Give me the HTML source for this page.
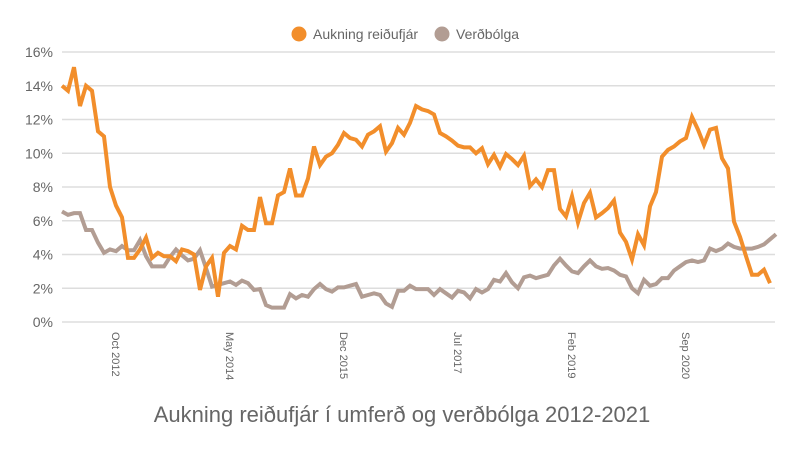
<!DOCTYPE html>
<html><head><meta charset="utf-8"><style>
body{margin:0;background:#fff;font-family:"Liberation Sans",sans-serif}
svg text{font-family:"Liberation Sans",sans-serif}
</style></head><body>
<svg id="chart" width="800" height="450" xmlns="http://www.w3.org/2000/svg">
<g id="grid"></g>
<g id="ylabels"></g>
<g id="xlabels"></g>
<g id="series"></g>
<g>
<g><circle cx="299" cy="34" r="7.5" fill="#f28e2b"/><text x="313" y="39" font-size="14" fill="#666">Aukning reiðufjár</text></g>
<g><circle cx="442" cy="34" r="7.5" fill="#b29d93"/><text x="456" y="39" font-size="14" fill="#666">Verðbólga</text></g>
</g>
<text x="402" y="422" text-anchor="middle" font-size="22" fill="#666">Aukning reiðufjár í umferð og verðbólga 2012-2021</text>
</svg>
<script>
const yTicks=[0,2,4,6,8,10,12,14,16];
const xTickLabels=["Oct 2012","May 2014","Dec 2015","Jul 2017","Feb 2019","Sep 2020"];
const xTickIndex=[9,28,47,66,85,104];
const cash=[14.0,13.7,15.1,12.8,14.0,13.7,11.3,11.0,8.0,6.9,6.2,3.8,3.8,4.3,5.0,3.8,4.1,3.9,3.9,3.6,4.3,4.2,4.0,1.9,3.3,3.8,1.5,4.1,4.5,4.3,5.7,5.45,5.45,7.4,5.85,5.85,7.5,7.7,9.1,7.5,7.5,8.5,10.4,9.3,9.8,10.0,10.5,11.2,10.9,10.8,10.4,11.1,11.3,11.6,10.1,10.6,11.5,11.1,11.8,12.8,12.6,12.5,12.3,11.2,11.0,10.75,10.45,10.35,10.35,10.0,10.3,9.35,9.9,9.2,9.95,9.65,9.3,9.85,8.05,8.45,8.0,9.0,9.0,6.7,6.25,7.45,5.9,7.05,7.65,6.2,6.45,6.75,7.2,5.3,4.75,3.7,5.2,4.55,6.85,7.7,9.8,10.2,10.4,10.7,10.9,12.15,11.4,10.5,11.4,11.5,9.7,9.1,5.95,5.05,3.9,2.8,2.8,3.1,2.3];
const inflation=[6.55,6.35,6.45,6.45,5.45,5.45,4.7,4.1,4.3,4.2,4.5,4.25,4.25,4.85,3.9,3.3,3.3,3.3,3.85,4.3,3.95,3.65,3.75,4.25,3.2,2.1,2.2,2.3,2.4,2.2,2.45,2.3,1.9,1.95,1.0,0.85,0.85,0.85,1.65,1.4,1.6,1.5,1.95,2.25,1.95,1.8,2.05,2.05,2.15,2.25,1.5,1.6,1.7,1.6,1.1,0.9,1.85,1.85,2.15,1.95,1.95,1.95,1.6,1.95,1.7,1.45,1.85,1.75,1.4,1.95,1.75,1.95,2.5,2.4,2.9,2.35,2.0,2.65,2.75,2.6,2.7,2.8,3.35,3.75,3.35,3.0,2.9,3.3,3.65,3.3,3.15,3.2,3.05,2.8,2.7,2.0,1.7,2.5,2.15,2.25,2.6,2.6,3.05,3.3,3.55,3.65,3.55,3.65,4.35,4.2,4.35,4.65,4.45,4.35,4.35,4.35,4.45,4.6,4.9,5.2];
const NS="http://www.w3.org/2000/svg";
const X=i=>62+6*i;
const Y=v=>322-v*16.875;
function mk(t,a,p){const e=document.createElementNS(NS,t);for(const k in a)e.setAttribute(k,a[k]);p.appendChild(e);return e;}
const grid=document.getElementById('grid'),yl=document.getElementById('ylabels'),xl=document.getElementById('xlabels'),sr=document.getElementById('series');
yTicks.forEach(v=>{
  const l=mk('line',{x1:62,x2:775,y1:Y(v),y2:Y(v),stroke:'#ddd','stroke-width':1.5},grid);
  
  
  const t=mk('text',{x:53,y:Y(v)+5,'text-anchor':'end','font-size':14,fill:'#666'},yl);
  t.textContent=v+'%';
  
  
});
xTickLabels.forEach((s,k)=>{
  const x=X(xTickIndex[k]);
  const t=mk('text',{x:0,y:0,transform:`translate(${x-4},332) rotate(90)`,'font-size':11,fill:'#666'},xl);
  t.textContent=s;
  
  
});
function line(arr,color,name){
  const p=mk('polyline',{points:arr.map((v,i)=>X(i)+','+Y(v)).join(' '),fill:'none',stroke:color,'stroke-width':4,'stroke-linejoin':'miter'},sr);
  
  
}
line(inflation,'#b29d93','verdbolga-line');
line(cash,'#f28e2b','aukning-line');
</script>
</body></html>
